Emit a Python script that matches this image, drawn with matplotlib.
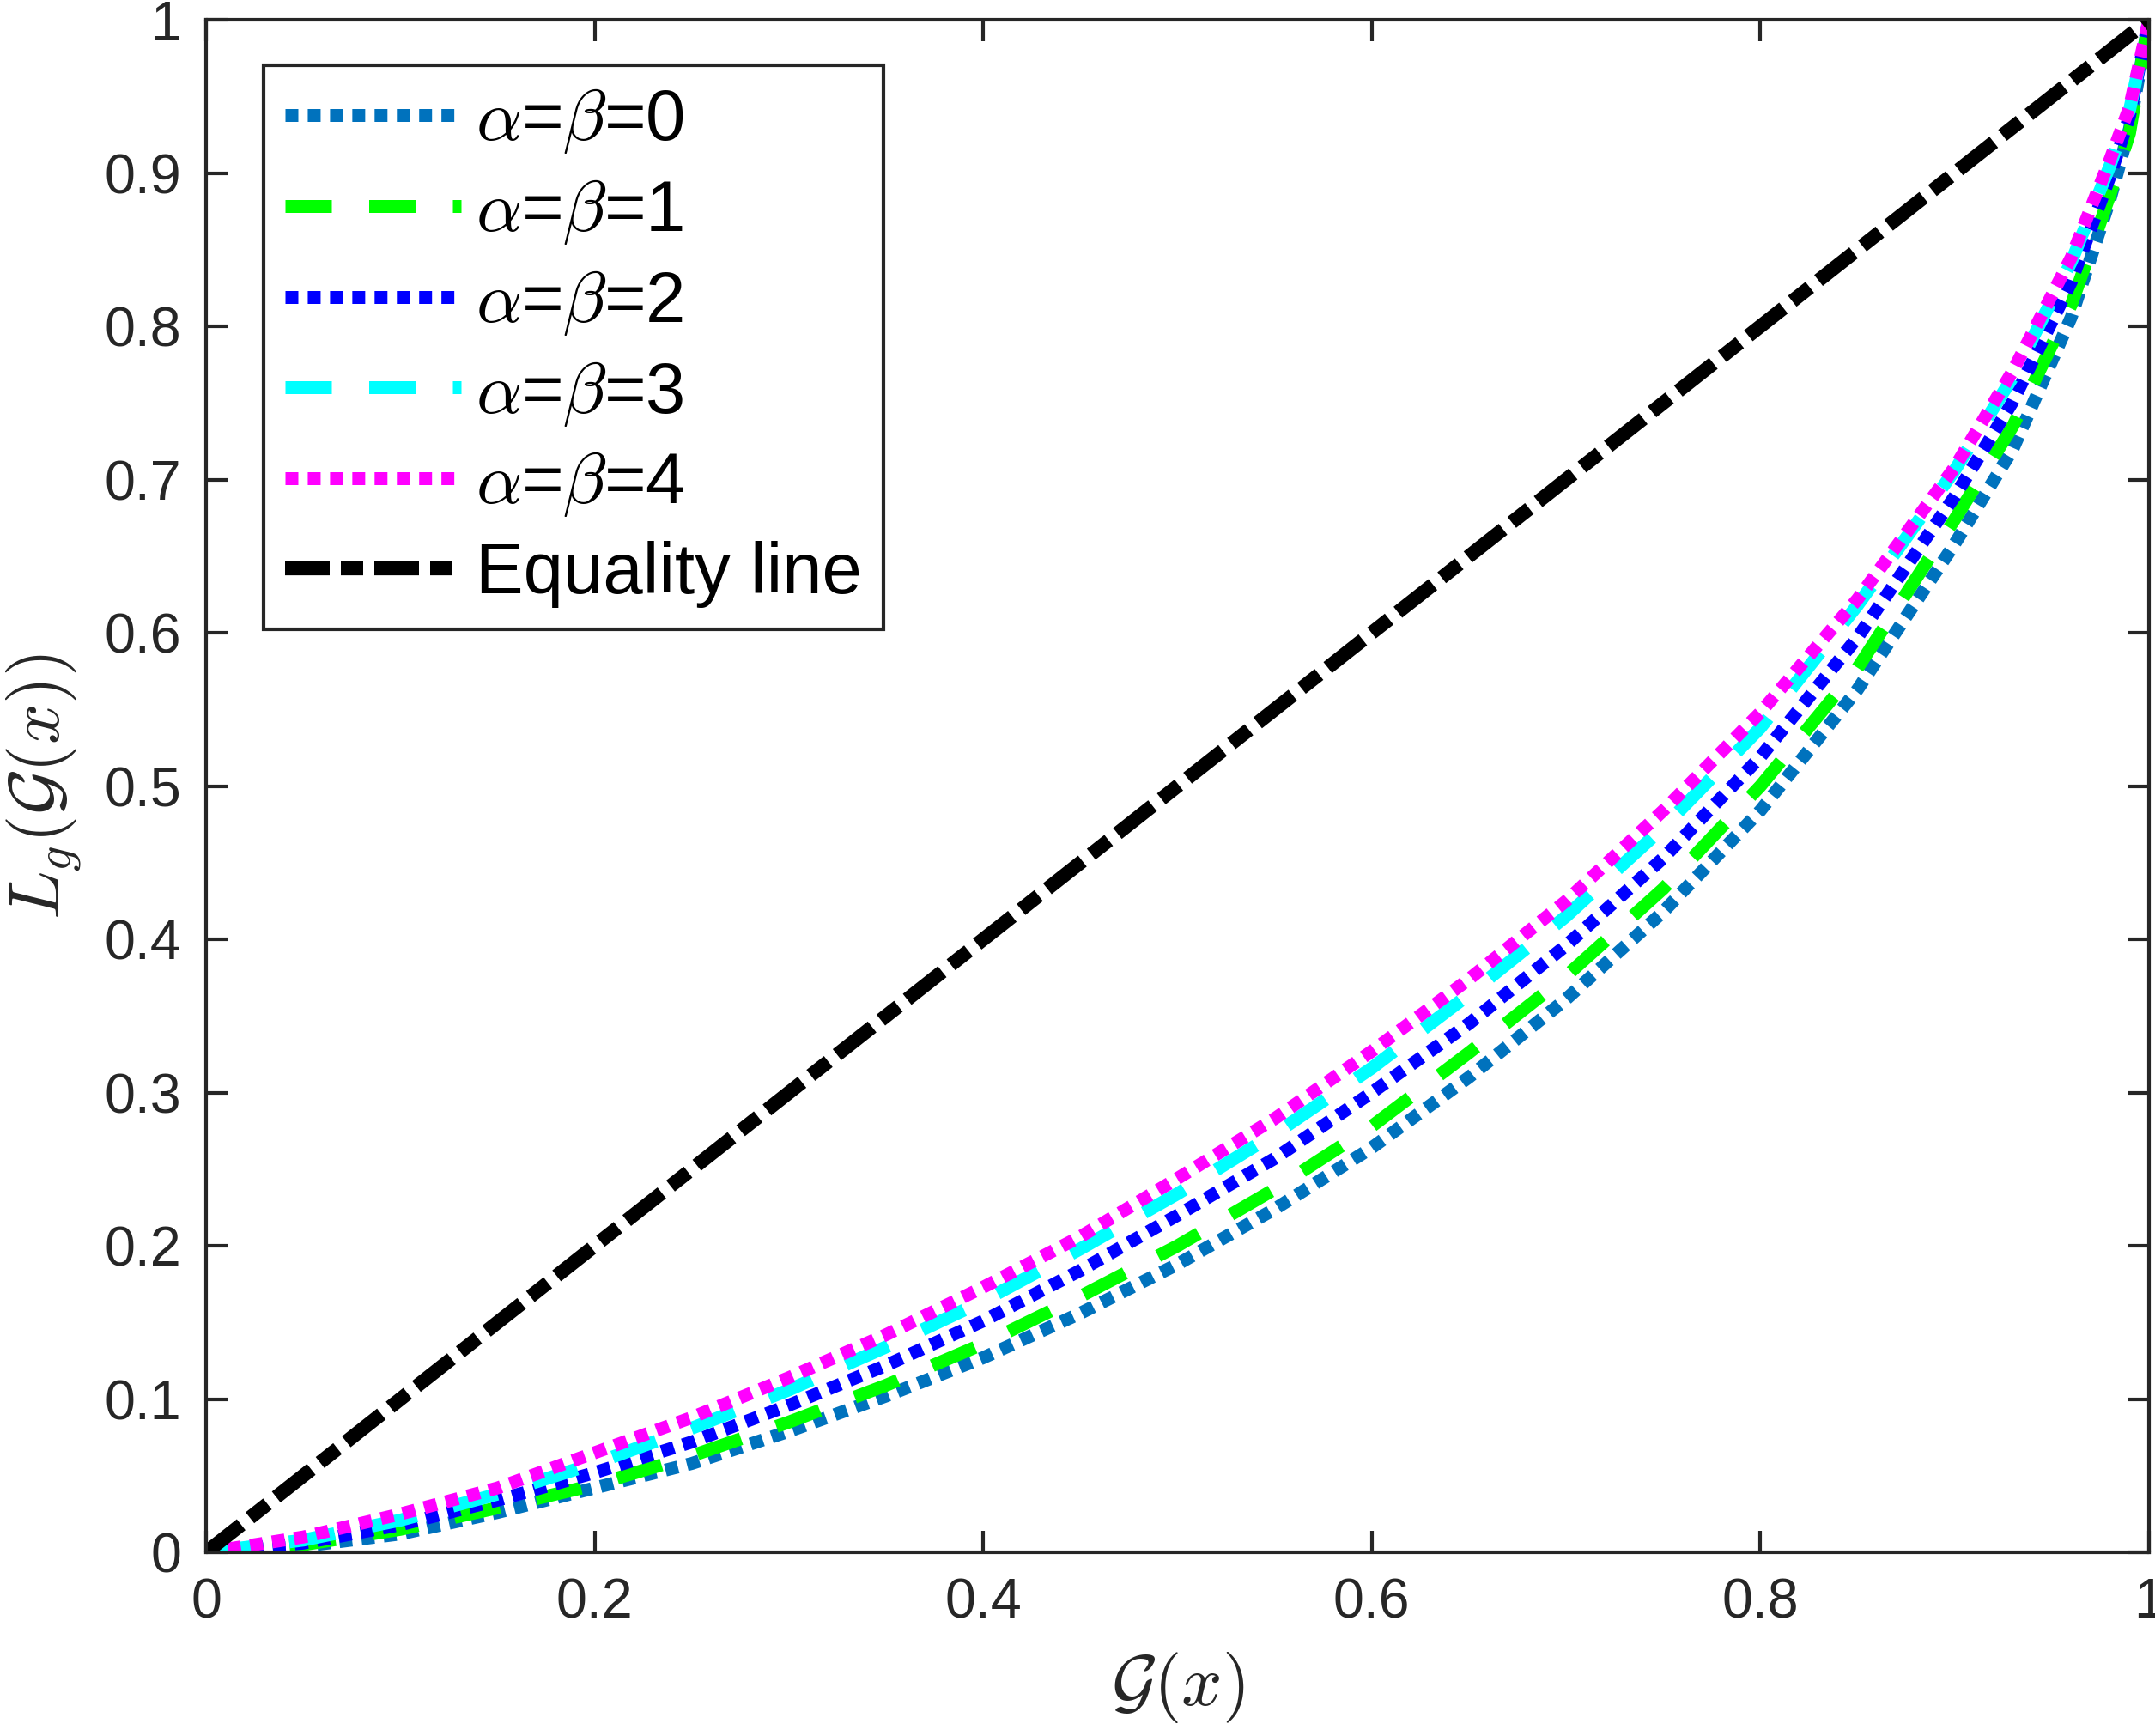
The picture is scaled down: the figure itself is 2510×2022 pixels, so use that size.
import matplotlib
matplotlib.use("Agg")
import matplotlib.pyplot as plt

# values
g_vals = [0.0, 0.05, 0.1, 0.15, 0.2, 0.25, 0.3, 0.35, 0.4, 0.45, 0.5, 0.55,
          0.6, 0.65, 0.7, 0.75, 0.8, 0.85, 0.9, 0.93, 0.96, 0.98, 0.99, 1.0]

lg_ab0 = [0.0, 0.004, 0.012, 0.026, 0.042, 0.058, 0.079, 0.102, 0.127, 0.156, 0.188, 0.224,
          0.264, 0.310, 0.361, 0.418, 0.484, 0.563, 0.658, 0.720, 0.806, 0.883, 0.929, 1.0]
lg_ab1 = [0.0, 0.005, 0.015, 0.029, 0.044, 0.063, 0.085, 0.109, 0.136, 0.167, 0.200, 0.237,
          0.278, 0.326, 0.376, 0.433, 0.500, 0.577, 0.674, 0.735, 0.814, 0.886, 0.926, 1.0]
lg_ab2 = [0.0, 0.006, 0.018, 0.034, 0.052, 0.072, 0.096, 0.122, 0.151, 0.184, 0.220, 0.257,
          0.300, 0.345, 0.396, 0.453, 0.519, 0.597, 0.689, 0.751, 0.829, 0.898, 0.937, 1.0]
lg_ab3 = [0.0, 0.008, 0.021, 0.038, 0.058, 0.081, 0.106, 0.134, 0.164, 0.198, 0.234, 0.273,
          0.316, 0.364, 0.415, 0.473, 0.538, 0.618, 0.706, 0.767, 0.842, 0.905, 0.941, 1.0]
lg_ab4 = [0.0, 0.010, 0.025, 0.042, 0.065, 0.088, 0.114, 0.142, 0.173, 0.206, 0.244, 0.283,
          0.327, 0.374, 0.425, 0.484, 0.548, 0.622, 0.708, 0.771, 0.845, 0.909, 0.943, 1.0]

eq_x = [0.0, 1.0]
eq_y = [0.0, 1.0]

labels = [r'$\alpha$=$\beta$=0', r'$\alpha$=$\beta$=1', r'$\alpha$=$\beta$=2',
          r'$\alpha$=$\beta$=3', r'$\alpha$=$\beta$=4', 'Equality line']

x_ticks = [0, 0.2, 0.4, 0.6, 0.8, 1.0]
x_ticklabels = ['0', '0.2', '0.4', '0.6', '0.8', '1']
y_ticks = [0, 0.1, 0.2, 0.3, 0.4, 0.5, 0.6, 0.7, 0.8, 0.9, 1.0]
y_ticklabels = ['0', '0.1', '0.2', '0.3', '0.4', '0.5', '0.6', '0.7', '0.8', '0.9', '1']


def main():
    plt.rcParams['font.family'] = ['Liberation Sans', 'DejaVu Sans']
    plt.rcParams['mathtext.fontset'] = 'cm'

    fig = plt.figure(figsize=(2511 / 300, 2022 / 300), dpi=300)
    ax = fig.add_axes([0.0956, 0.1058, 0.9012, 0.8828])

    lw = 3.6
    dot = (1.0, 0.73)
    dash = (3.6, 2.9)
    # 各曲線をプロット
    ax.plot(g_vals, lg_ab0, color='#0072BD', lw=lw, dashes=dot, label=labels[0])
    ax.plot(g_vals, lg_ab1, color='#00FF00', lw=lw, dashes=dash, label=labels[1])
    ax.plot(g_vals, lg_ab2, color='#0000FF', lw=lw, dashes=dot, label=labels[2])
    ax.plot(g_vals, lg_ab3, color='#00FFFF', lw=lw, dashes=dash, label=labels[3])
    ax.plot(g_vals, lg_ab4, color='#FF00FF', lw=lw, dashes=dot, label=labels[4])
    ax.plot(eq_x, eq_y, color='black', lw=3.9, dashes=(3.2, 0.8, 1.6, 0.8), label=labels[5])

    ax.set_xlim(0, 1)
    ax.set_ylim(0, 1)
    ax.set_xticks(x_ticks)
    ax.set_xticklabels(x_ticklabels)
    ax.set_yticks(y_ticks)
    ax.set_yticklabels(y_ticklabels)
    ax.tick_params(direction='in', length=6, width=1.0, colors='#262626',
                   labelsize=15.5, top=True, right=True, pad=7)
    for sp in ax.spines.values():
        sp.set_color('#262626')
        sp.set_linewidth(1.0)

    ax.set_xlabel(r'$\mathcal{G}(x)$', fontsize=20, color='#262626', labelpad=6)
    ax.set_ylabel(r'$L_g(\mathcal{G}(x))$', fontsize=20, color='#262626', labelpad=6)

    leg = ax.legend(loc='upper left', bbox_to_anchor=(0.1223, 0.9624),
                    bbox_transform=fig.transFigure, borderaxespad=0,
                    fontsize=20, handlelength=2.46, handletextpad=0.2,
                    labelspacing=0.31, borderpad=0.3, fancybox=False,
                    framealpha=1.0, edgecolor='#262626')
    leg.get_frame().set_linewidth(1.0)

    fig.savefig('out.png', dpi=300)


if __name__ == "__main__":
    main()
